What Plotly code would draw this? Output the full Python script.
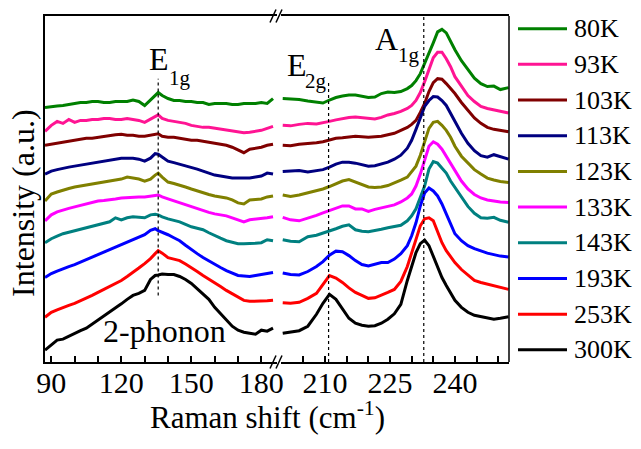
import plotly.graph_objects as go

# ---------------- data ----------------
temps = ["80K", "93K", "103K", "113K", "123K", "133K", "143K", "193K", "253K", "300K"]
colors = ["#008000", "#FF1493", "#800000", "#000080", "#808000",
          "#FF00FF", "#008080", "#0000FF", "#FF0000", "#000000"]

x_left = [87.3, 90, 92.5, 95, 97.5, 100, 102.5, 105, 107.5, 110,
          112.5, 115, 117.5, 120, 122.5, 125, 127.5, 130, 132.5, 134.5,
          135.8, 137.5, 140, 142.5, 145, 147.5, 150, 152.5, 155, 157.5,
          160, 162.5, 165, 167.5, 170, 172.5, 175, 177.5, 180, 182.5, 185]
x_right = [200.2, 202, 204, 206, 208, 209.5, 211, 212.5, 214, 215.5,
           217, 218.5, 220, 221.5, 223, 224.5, 226, 227.5, 229, 230,
           231, 232, 233, 234, 235, 236, 237, 238, 239, 240,
           241.5, 243, 244.5, 246, 247.5, 249, 250.5, 252.4]

# stacked intensities (a.u.), low-frequency window
left_80K = [256, 257, 257.5, 258, 259, 260, 261, 261, 262, 262, 261, 261, 262, 262, 262, 263.5, 262, 258, 264, 268,
            271, 268, 265, 263, 263, 262, 262, 261, 261, 259, 260, 260, 260, 259, 259, 260, 260, 260, 261, 260, 265]
left_93K = [232, 238, 242, 240, 244, 241, 243, 243, 244, 244, 245, 245, 244, 244, 245, 244, 243, 241, 244, 247,
            248.5, 245, 243, 242, 241, 240, 238, 237, 236, 236, 235, 234, 233, 232, 231, 230.5, 231, 232, 233, 235, 237]
left_103K = [218, 219, 220, 221, 222, 223, 224, 225, 225, 226, 227, 228, 228.5, 229, 228, 228, 227, 227, 228, 229,
             229.5, 227, 226, 226, 225, 224, 223, 223, 222, 221, 220, 219, 218, 216, 213, 210.5, 214, 215, 216, 218, 219]
left_113K = [189, 192, 193.5, 195, 196, 197, 198, 199, 200, 201, 202, 203, 204, 205, 205, 205, 204, 202, 205, 209.5,
             209, 206, 202, 200.5, 199, 197.5, 196, 194, 192, 190, 188, 187, 186, 185, 185, 185, 185, 186, 187, 190, 189]
left_123K = [162, 169, 171, 173, 174.5, 176, 177, 178, 179, 180, 181, 182, 183, 184, 186, 185, 184, 182, 184, 188,
             190, 186, 181, 179.5, 178, 176, 174, 172, 170, 168.5, 167, 166, 165, 163, 160, 159, 163, 163.5, 164, 166, 167]
left_133K = [142, 148, 151, 153, 154.5, 156, 157.5, 159, 160.5, 162, 162.5, 163, 164, 165, 165.5, 166, 166, 166, 166.5, 167.5,
             168, 166, 164, 162, 160, 158, 156, 154, 152, 150.5, 149, 148, 147, 145, 143, 141, 143, 143.5, 144, 145, 146]
left_143K = [120, 124, 126.5, 129, 130.5, 132, 133.5, 135, 136.5, 138, 139.5, 141, 145, 143, 145, 146, 145.5, 145, 148, 148.5,
             148, 146, 144, 142.5, 141, 138.5, 136, 134.5, 133, 130, 127, 124.5, 122, 120.5, 119, 119, 119, 119.5, 120, 123, 122]
left_193K = [85, 89, 91.5, 94, 96, 98, 100.5, 103, 105.5, 108, 110.5, 113, 115.5, 118, 120.5, 123, 125.5, 128, 132.5, 134,
             132, 130.5, 128, 125, 122, 117.5, 113, 109, 105, 101.5, 98, 95, 92, 89.5, 87, 86.5, 86, 87, 88, 89, 90]
left_253K = [45, 50, 52.5, 55, 57, 59, 61.5, 64, 67, 70, 73, 76, 79, 82, 86, 90, 94.5, 99, 104, 109,
             112, 109.5, 105, 103.5, 102, 98.5, 95, 91, 87, 83.5, 80, 76, 72, 68.5, 65, 62, 61, 61, 61, 61.5, 62]
left_300K = [12, 17, 22, 23, 26, 29, 31.5, 34, 38, 42, 46, 50, 54, 58.5, 63, 67, 69, 72, 83, 87,
             87.5, 88.5, 88, 88, 86, 83, 79, 74, 69, 63, 55, 49, 43, 36, 32, 30, 29, 28, 32, 31, 34]

# stacked intensities (a.u.), high-frequency window
right_80K = [265, 264.5, 264, 262.5, 261, 260.5, 263.5, 266, 267.5, 268.5, 268.5, 267.5, 266, 266.5, 270, 271.5, 271, 272, 275, 278,
             283, 290, 300, 310, 321, 332, 334.5, 331, 322, 314, 303, 294, 285.5, 280, 277, 277.5, 274, 276]
right_93K = [238, 237.5, 239, 240, 239.5, 240.5, 242, 243.5, 245, 246, 246.5, 246, 245, 244.5, 246, 248.5, 250, 252, 255, 258,
             263, 271, 282, 295, 306, 311.5, 311.5, 305, 297, 287, 277, 268, 262, 257, 255, 253.5, 252, 250.5]
right_103K = [218, 217.5, 219, 219.5, 220.5, 221.5, 223, 225, 225.5, 226.5, 227, 226.5, 226, 226.5, 227, 228.5, 230, 233, 236, 239,
              243, 251, 260, 272, 281, 285, 284.5, 280, 275, 270, 261, 253, 245.5, 240, 236, 234, 233, 231.5]
right_113K = [191.5, 192, 192.5, 191, 192, 193.5, 196, 199, 201, 201, 200, 198.5, 197, 197.5, 199, 201, 204, 208, 215, 223,
              234, 246, 257, 263, 267, 266.5, 263, 258, 250, 242, 230, 220, 212.5, 207.5, 206, 208.5, 206.5, 204]
right_123K = [168, 166.5, 168, 170, 172, 174, 176.5, 179, 182, 183.5, 181, 178, 176, 175.5, 176, 177.5, 180, 183, 186, 191,
              197, 208, 222, 235, 241, 242, 238, 233, 226, 217, 207, 200, 193.5, 189, 185, 183, 181.5, 180.5]
right_133K = [145.5, 143, 142, 144.5, 147.5, 150, 152.5, 155, 157, 157, 154, 154, 151.5, 153.5, 155, 156, 158, 161, 165, 169,
              177, 189, 202, 217, 221.5, 219, 214, 207, 199, 192, 182, 174, 168.5, 165, 163, 162, 161, 160.5]
right_143K = [123, 121.5, 121, 126, 127.5, 129.5, 131.5, 134, 136.5, 138, 133, 131.5, 131, 132, 133.5, 135, 136, 137.5, 142, 147,
              154, 166, 177, 194, 201.5, 200, 195.5, 190, 182, 175.5, 165, 156.5, 149.5, 145, 144.5, 145.5, 142.5, 140.5]
right_193K = [89.5, 88, 87.5, 91, 96, 101, 107.5, 111.5, 111, 107, 102, 98, 96.5, 98.5, 100, 100, 103.5, 109, 117, 127,
              140, 157, 170, 175, 172, 167, 159, 149, 139, 129, 122, 117, 114, 111.5, 109.5, 108, 106.5, 105.5]
right_253K = [59.5, 59, 60, 64, 69, 78, 87, 84.5, 80, 74.5, 70, 67, 64, 64.5, 67, 70, 73, 81, 96, 109,
              122, 137, 144, 145, 142, 130, 120, 112, 106, 100, 93, 87, 82, 80, 78.5, 77, 75.5, 73]
right_300K = [29, 30, 31.5, 36, 48, 59, 68, 63, 54, 44, 39, 37, 36, 36.5, 39, 43, 48.5, 58, 82, 97,
              110, 119, 122.5, 117, 106, 95, 85, 77, 69, 62, 55, 50, 47, 45.5, 44.5, 43, 44, 45.5]

left_series = [left_80K, left_93K, left_103K, left_113K, left_123K,
               left_133K, left_143K, left_193K, left_253K, left_300K]
right_series = [right_80K, right_93K, right_103K, right_113K, right_123K,
                right_133K, right_143K, right_193K, right_253K, right_300K]

# phonon mode markers (peak position, dotted-line extent in a.u.)
mode_names = ["E1g", "E2g", "A1g"]
mode_pos = [135.8, 210.8, 232.8]
mode_low = [67, 0, 0]
mode_high = [285, 282, 348]

left_ticks_major = 30
right_ticks_major = 15

FONT = "Liberation Serif"

# ---------------- figure ----------------
fig = go.Figure()

for i, (name, col) in enumerate(zip(temps, colors)):
    fig.add_trace(go.Scatter(x=x_left, y=left_series[i], mode="lines", name=name,
                             line=dict(color=col, width=3), xaxis="x", yaxis="y",
                             showlegend=False))
    fig.add_trace(go.Scatter(x=x_right, y=right_series[i], mode="lines", name=name,
                             line=dict(color=col, width=3), xaxis="x2", yaxis="y",
                             showlegend=False))

for name, pos, lo, hi in zip(mode_names, mode_pos, mode_low, mode_high):
    xa = "x" if pos < 190 else "x2"
    fig.add_trace(go.Scatter(x=[pos, pos], y=[lo, hi], mode="lines", name=name,
                             line=dict(color="black", width=1.2, dash="dot"),
                             xaxis=xa, yaxis="y", showlegend=False))

# the page body adds an 8 px margin around the figure
PAGE = 8
W, H = 641 - 2 * PAGE, 449 - 2 * PAGE
ML, MT = 45 - PAGE, 14 - PAGE
PW, PH = 464, 348
MR, MB = W - ML - PW, H - MT - PH
REF_L, REF_B = 45, 362   # plot-area left / bottom in the screenshot


def px2paper(px, py):
    return (px - REF_L) / PW, (REF_B - py) / PH


axis_common = dict(showline=True, linecolor="black", linewidth=1.5, mirror=True,
                   ticks="inside", ticklen=6, tickwidth=1.5, tickcolor="black",
                   showgrid=False, zeroline=False, ticklabelstandoff=-7,
                   tickfont=dict(family=FONT, size=30, color="black"))

fig.update_layout(
    width=W, height=H,
    margin=dict(l=ML, r=MR, t=MT, b=MB),
    plot_bgcolor="white", paper_bgcolor="white",
    font=dict(family=FONT, color="black"),
    xaxis=dict(domain=[0, 0.5], range=[87.3, 186.7], tick0=90, dtick=left_ticks_major,
               minor=dict(dtick=10, ticks="inside", ticklen=6, tickwidth=1.5, tickcolor="black"),
               anchor="y", **axis_common),
    xaxis2=dict(domain=[0.5086, 1], range=[199.8, 252.5], tick0=210, dtick=right_ticks_major,
                minor=dict(dtick=5, ticks="inside", ticklen=6, tickwidth=1.5, tickcolor="black"),
                anchor="y", **axis_common),
    yaxis=dict(range=[0, 348], showline=True, linecolor="black", linewidth=1.5,
               showticklabels=False, ticks="", showgrid=False, zeroline=False),
)

shapes = []
# right frame edge
shapes.append(dict(type="line", xref="paper", yref="paper", x0=1, x1=1, y0=0, y1=1,
                   line=dict(color="black", width=1.5)))
# axis-break marks (top and bottom)
for pyc in (14, 362):
    for pxa in (270, 276):
        x0, y0 = px2paper(pxa, pyc + 6.5)
        x1, y1 = px2paper(pxa + 6, pyc - 6.5)
        shapes.append(dict(type="line", xref="paper", yref="paper", x0=x0, y0=y0, x1=x1, y1=y1,
                           line=dict(color="black", width=1.5)))

annotations = []
# manual legend
for i, (name, col) in enumerate(zip(temps, colors)):
    py = 26.7 + i * 35.9
    xa, ya = px2paper(518, py)
    xb, _ = px2paper(567, py)
    shapes.append(dict(type="line", xref="paper", yref="paper", x0=xa, x1=xb, y0=ya, y1=ya,
                       line=dict(color=col, width=3)))
    xt, _ = px2paper(572, py)
    annotations.append(dict(text=name, xref="paper", yref="paper", x=xt, y=ya,
                            xanchor="left", yanchor="middle", showarrow=False,
                            font=dict(family=FONT, size=26, color="black")))

# mode labels
def lab(text, xref, x, y, size):
    annotations.append(dict(text=text, xref=xref, yref="y", x=x, y=y, xanchor="center",
                            yanchor="middle", showarrow=False,
                            font=dict(family=FONT, size=size, color="black")))

lab("E", "x", 135.95, 304.5, 32)
lab("1g", "x", 145.2, 286, 21)
lab("E", "x2", 203.46, 298.3, 32)
lab("2g", "x2", 207.9, 283, 21)
lab("A", "x2", 224.26, 324.5, 32)
lab("1g", "x2", 229.4, 309, 21)
lab("2-phonon", "x", 138.7, 31, 32)

# axis titles
xt, yt = px2paper(267, 416)
annotations.append(dict(text="Raman shift (cm<sup>-1</sup>)", xref="paper", yref="paper",
                        x=xt, y=yt, xanchor="center", yanchor="middle", showarrow=False,
                        font=dict(family=FONT, size=31, color="black")))
xt, yt = px2paper(23, 202)
annotations.append(dict(text="Intensity (a.u.)", xref="paper", yref="paper", x=xt, y=yt,
                        xanchor="center", yanchor="middle", textangle=-90, showarrow=False,
                        font=dict(family=FONT, size=32, color="black")))

fig.update_layout(shapes=shapes, annotations=annotations)

fig.write_html("out.html")
